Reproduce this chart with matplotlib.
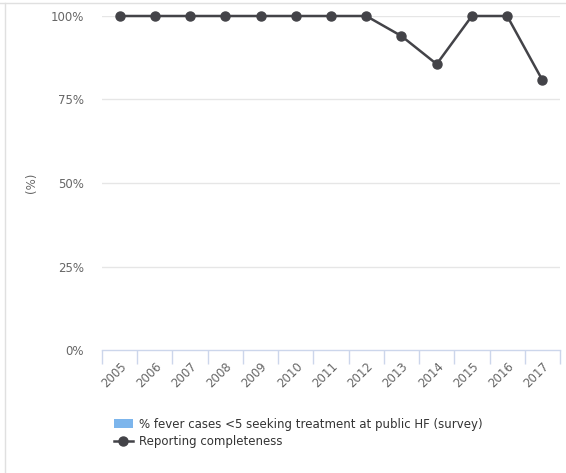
import matplotlib
matplotlib.use("Agg")
import matplotlib.pyplot as plt
from matplotlib.lines import Line2D
from matplotlib.patches import Patch

years = ["2005", "2006", "2007", "2008", "2009", "2010", "2011", "2012",
         "2013", "2014", "2015", "2016", "2017"]
completeness = [100, 100, 100, 100, 100, 100, 100, 100, 94, 85.6, 100, 100, 80.8]
y_ticks = [0, 25, 50, 75, 100]
y_tick_labels = ["0%", "25%", "50%", "75%", "100%"]

plt.rcParams['font.family'] = ['DejaVu Sans']

fig = plt.figure(figsize=(5.66, 4.73), dpi=100)
ax = fig.add_axes([102/566, 1-350/473, 458/566, 334/473])

x = list(range(len(years)))
ax.plot(x, completeness, color="#434348", lw=1.8, marker="o", markersize=6.5,
        zorder=3, clip_on=False)

ax.set_xlim(-0.5, len(years) - 0.5)
ax.set_ylim(0, 100)
ax.set_yticks(y_ticks)
ax.set_yticklabels(y_tick_labels)
for yv in y_ticks[1:]:
    ax.axhline(yv, color="#e6e6e6", lw=1, zorder=1)

ax.set_xticks(x)
ax.set_xticklabels(years, rotation=45, ha="right", va="top", rotation_mode="anchor")
ax.set_xticks([i - 0.5 for i in range(len(years) + 1)], minor=True)
ax.tick_params(axis="x", which="major", length=0, pad=7, labelsize=8.5, labelcolor="#666666")
ax.tick_params(axis="x", which="minor", length=10, color="#ccd6eb", width=1)
ax.tick_params(axis="y", length=0, pad=13, labelsize=8.5, labelcolor="#666666")

for s in ["top", "right", "left"]:
    ax.spines[s].set_visible(False)
ax.spines["bottom"].set_color("#ccd6eb")
ax.spines["bottom"].set_linewidth(1)

ax.set_ylabel("(%)", color="#666666", fontsize=8.5, labelpad=9)

handles = [Patch(facecolor="#7cb5ec", edgecolor="none"),
           Line2D([0], [0], color="#434348", lw=1.8, marker="o", markersize=6.5)]
labels = ["% fever cases <5 seeking treatment at public HF (survey)",
          "Reporting completeness"]
leg = fig.legend(handles, labels, loc="upper left", bbox_to_anchor=(108/566, 1-412/473),
                 frameon=False, fontsize=8.5, handlelength=1.6, handleheight=0.8,
                 handletextpad=0.5, labelspacing=0.35, borderpad=0)
for t in leg.get_texts():
    t.set_color("#333333")

# light frame lines on top and left edge
fig.add_artist(Line2D([0, 1], [1 - 3.5/473, 1 - 3.5/473], transform=fig.transFigure,
                      color="#e0e0e0", lw=1))
fig.add_artist(Line2D([4.5/566, 4.5/566], [0, 1 - 3.5/473], transform=fig.transFigure,
                      color="#e0e0e0", lw=1))

fig.savefig("out.png", dpi=100)
